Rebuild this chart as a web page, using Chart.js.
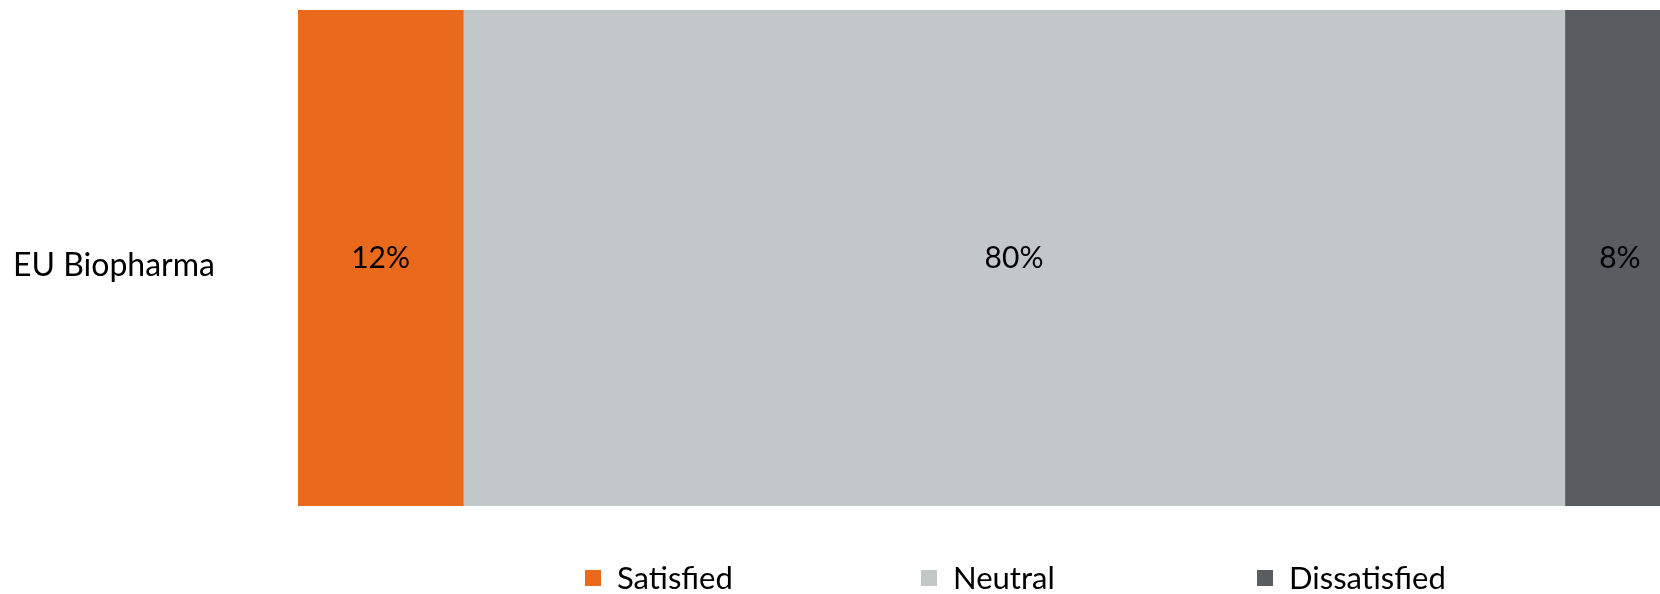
<!DOCTYPE html>
<html>
<head>
<meta charset="utf-8">
<script src="https://cdn.jsdelivr.net/npm/chart.js@4/dist/chart.umd.min.js"></script>
<style>
  html, body { margin: 0; padding: 0; background: #fff; overflow: hidden; }
  #wrap { width: 1660px; height: 594px; overflow: hidden; }
  canvas { display: block; }
</style>
</head>
<body>
<div id="wrap"><canvas id="graficoBarra" width="1675" height="594"></canvas></div>
<script>
const categorias = ['EU Biopharma'];
const series = ['Satisfied', 'Neutral', 'Dissatisfied'];
const satisfeitos = [12];
const neutros = [80];
const insatisfeitos = [8];
const cores = ['#E9691D', '#C2C7C7', '#595D61'];

const fonte = 'Lato, "Open Sans", sans-serif';
const corTexto = '#000';

// escreve o valor (%) no meio de cada segmento
const rotulosValores = {
  id: 'rotulosValores',
  afterDatasetsDraw(chart) {
    const ctx = chart.ctx;
    ctx.save();
    ctx.font = '30px ' + fonte;
    ctx.fillStyle = corTexto;
    ctx.textAlign = 'center';
    ctx.textBaseline = 'middle';
    chart.data.datasets.forEach((ds, i) => {
      chart.getDatasetMeta(i).data.forEach((barra, j) => {
        const c = barra.getCenterPoint();
        ctx.fillText(ds.data[j] + '%', c.x, c.y);
      });
    });
    ctx.restore();
  }
};

// legenda embaixo, itens com espaçamento fixo
const legendaBaixo = {
  id: 'legendaBaixo',
  afterDraw(chart) {
    const ctx = chart.ctx;
    const inicio = 585, passo = 336, lado = 16, yMeio = 578;
    ctx.save();
    ctx.font = '31px ' + fonte;
    ctx.textBaseline = 'middle';
    ctx.textAlign = 'left';
    chart.data.datasets.forEach((ds, i) => {
      const x = inicio + i * passo;
      ctx.fillStyle = ds.backgroundColor;
      ctx.fillRect(x, yMeio - lado / 2, lado, lado);
      ctx.fillStyle = corTexto;
      ctx.fillText(ds.label, x + lado + 16, yMeio + 1);
    });
    ctx.restore();
  }
};

const dadosSeries = [satisfeitos, neutros, insatisfeitos];

new Chart(document.getElementById('graficoBarra').getContext('2d'), {
  type: 'bar',
  data: {
    labels: categorias,
    datasets: series.map((nome, i) => ({
      label: nome,
      data: dadosSeries[i],
      backgroundColor: cores[i],
      borderWidth: 0,
      barPercentage: 1,
      categoryPercentage: 1
    }))
  },
  options: {
    indexAxis: 'y',
    responsive: false,
    animation: false,
    devicePixelRatio: 1,
    layout: { padding: { left: 13, top: 10, right: 0, bottom: 88 } },
    plugins: {
      legend: { display: false },
      tooltip: { enabled: false }
    },
    scales: {
      x: {
        stacked: true,
        min: 0,
        max: 100,
        display: false
      },
      y: {
        stacked: true,
        grid: { display: false },
        border: { display: false },
        ticks: {
          crossAlign: 'far',
          labelOffset: 8,
          color: corTexto,
          font: { family: fonte, size: 32 }
        },
        afterFit(escala) {
          escala.width = 285;
          // o rótulo fica no meio, não precisa de folga em cima/embaixo
          escala.paddingTop = 0;
          escala.paddingBottom = 0;
        }
      }
    }
  },
  plugins: [rotulosValores, legendaBaixo]
});
</script>
</body>
</html>
